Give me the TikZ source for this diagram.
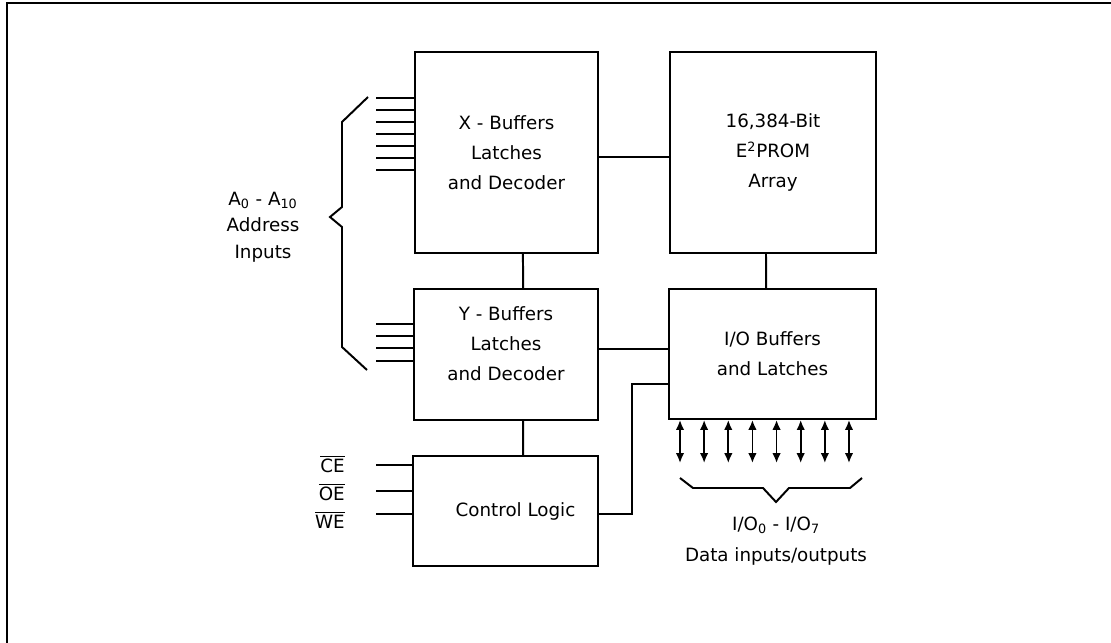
\documentclass[tikz,border=0pt]{standalone}
\usepackage{fontspec}
\setmainfont{DejaVu Sans}
\usetikzlibrary{arrows.meta, positioning, calc}
\tikzset{
  blkbox/.style={rectangle, draw=black, line width=1.4pt, align=center,
                 inner sep=0pt, font=\fontsize{13}{21.5}\selectfont},
  txtnode/.style={align=center, inner sep=0pt,
                  font=\fontsize{13}{21.5}\selectfont},
  wire/.style={line width=1.4pt},
  pinline/.style={line width=1.4pt},
  dataarrow/.style={{Latex[length=7pt,width=6pt]}-{Latex[length=7pt,width=6pt]},
                    line width=1.2pt}
}

\begin{document}
\begin{tikzpicture}[x=0.025cm, y=-0.025cm]
  \useasboundingbox (0,0) rectangle (1111,643);
  \draw[wire] (7,643) -- (7,3) -- (1111,3);

  \node[blkbox, minimum width=4.575cm, minimum height=5.025cm] (xbuf) at (506.5,152.5)
      {X - Buffers\\Latches\\and Decoder};
  \node[blkbox, minimum width=5.15cm, minimum height=5.025cm] (eprom) at (773,152.5)
      {16,384-Bit\\E\textsuperscript{2}PROM\\Array};
  \node[blkbox, minimum width=4.6cm, minimum height=3.275cm,
        label={[txtnode, yshift=0.275cm]center:{Y - Buffers\\Latches\\and Decoder}}]
      (ybuf) at (506,354.5) {};
  \node[blkbox, minimum width=5.175cm, minimum height=3.25cm] (iobuf) at (772.5,354)
      {I/O Buffers\\and Latches};
  \node[blkbox, minimum width=4.625cm, minimum height=2.75cm] (ctrl) at (505.5,511)
      {\hspace{0.5cm}Control Logic};

  \node[txtnode, font=\fontsize{13}{19}\selectfont] (addrlbl) at (263,227)
      {A\textsubscript{0} - A\textsubscript{10}\\Address\\Inputs};
  \node[txtnode, font=\fontsize{13}{22.5}\selectfont] (iolbl) at (776,541)
      {I/O\textsubscript{0} - I/O\textsubscript{7}\\Data inputs/outputs};
  \node[txtnode, anchor=east] (celbl) at (345,464) {$\overline{\mbox{CE}}$};
  \node[txtnode, anchor=east] (oelbl) at (345,492) {$\overline{\mbox{OE}}$};
  \node[txtnode, anchor=east] (welbl) at (345,520) {$\overline{\mbox{WE}}$};

  \foreach \y in {98,110,122,134,146,158,170}
    \draw[pinline] (xbuf.west |- 0,\y) -- ++(-38,0);
  \foreach \y in {324,336,348,361}
    \draw[pinline] (ybuf.west |- 0,\y) -- ++(-37,0);
  \foreach \y in {465,491,514}
    \draw[pinline] (ctrl.west |- 0,\y) -- ++(-36,0);

  \draw[wire] (368,97) -- (342,122) -- (342,207) -- (330,217) -- (342,227)
      -- (342,347) -- (367,370);
  \draw[wire] (680,478) -- (693,488) -- (763,488) -- (776,502) -- (789,488)
      -- (850,488) -- (862,478);

  \foreach \i in {0,...,7} {
    \pgfmathsetmacro\xx{680+24.14*\i}
    \draw[dataarrow] (iobuf.south -| \xx,0) -- ++(0,43);
  }

  \draw[wire] ([yshift=-0.11cm]xbuf.east) -- ([yshift=-0.11cm]eprom.west);
  \draw[wire] ([xshift=0.41cm]xbuf.south) -- ([xshift=0.43cm]ybuf.north);
  \draw[wire] ([xshift=0.43cm]ybuf.south) -- ([xshift=0.44cm]ctrl.north);
  \draw[wire] ([xshift=-0.175cm]eprom.south) -- ([xshift=-0.16cm]iobuf.north);
  \draw[wire] ([yshift=0.14cm]ybuf.east) -- ([yshift=0.14cm]ybuf.east -| iobuf.west);
  \coordinate (ctlbend) at (632,384);
  \draw[wire] ([yshift=-0.075cm]ctrl.east) -| (ctlbend) -- (ctlbend -| iobuf.west);
\end{tikzpicture}
\end{document}
